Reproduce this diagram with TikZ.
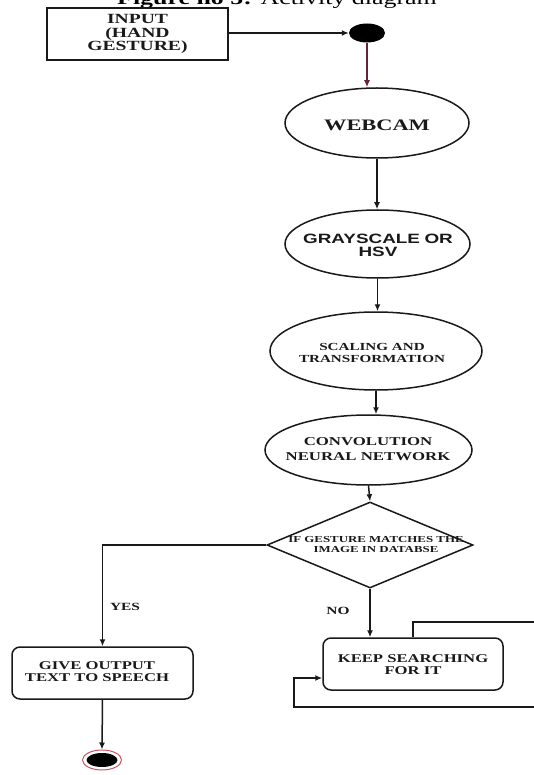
\documentclass[tikz,border=0pt]{standalone}
\usepackage{fontspec}
\usetikzlibrary{shapes.geometric,arrows.meta}
\newfontfamily\serifS[FakeStretch=1.4]{Liberation Serif}
\newfontfamily\sansS[FakeStretch=1.4]{Liberation Sans}
\definecolor{maroonln}{RGB}{100,35,55}
\definecolor{ringred}{RGB}{210,80,100}
\definecolor{ink}{RGB}{25,25,25}
\begin{document}
\begin{tikzpicture}[x=1pt,y=-1pt,
  line/.style={line width=1.5pt, draw=ink},
  arr/.style={line, -{Latex[length=7pt,width=6pt]}},
  el/.style={ellipse, draw=ink, line width=1.5pt, inner sep=0pt},
  rbox/.style={rectangle, rounded corners=8pt, draw=ink, line width=1.5pt, inner sep=0pt},
  lbl/.style={align=center, text=ink, inner sep=0pt},
]
\useasboundingbox (0,0) rectangle (534,775);
\clip (0,0) rectangle (534,775);

% title (cut at top edge)
\node[anchor=base, inner sep=0pt, font=\serifS\fontsize{18.5}{20}\selectfont] (title) at (277,5) {\textbf{Figure no 5:} Activity diagram};

% input box
\node[rectangle, draw=ink, line width=1.5pt, minimum width=181pt, minimum height=52pt, inner sep=0pt] (input) at (137.5,34) {};
\node[lbl, font=\serifS\bfseries\fontsize{14}{13.5}\selectfont] (inputT) at (input) {INPUT\\(HAND\\GESTURE)};

% start dot
\node[ellipse, fill=black, minimum width=36pt, minimum height=19pt, inner sep=0pt] (dot) at (367,33) {};

% ellipses
\node[el, minimum width=184pt, minimum height=70pt] (webcam) at (377,123) {};
\node[lbl, font=\serifS\bfseries\fontsize{16}{16}\selectfont] (webcamT) at (377,125) {WEBCAM};

\node[el, minimum width=185pt, minimum height=68pt] (gray) at (377.5,244) {};
\node[lbl, font=\sansS\bfseries\fontsize{13.5}{13}\selectfont] (grayT) at (378,245) {GRAYSCALE\,\,OR\\HSV};

\node[el, minimum width=212pt, minimum height=78pt] (scal) at (376,351) {};
\node[lbl, font=\serifS\bfseries\fontsize{10.8}{12}\selectfont] (scalT) at (372,353) {SCALING AND\\TRANSFORMATION};

\node[el, minimum width=207pt, minimum height=70pt] (cnn) at (368.5,450) {};
\node[lbl, font=\serifS\bfseries\fontsize{12}{15}\selectfont] (cnnT) at (368,449) {CONVOLUTION\\NEURAL NETWORK};

% decision
\node[diamond, draw=ink, line width=1.5pt, inner sep=0pt, minimum width=206pt, minimum height=86pt] (dec) at (370,545) {};
\node[lbl, font=\serifS\bfseries\fontsize{9.2}{10}\selectfont] (decT) at (376,544) {IF GESTURE\,\,MATCHES THE\\IMAGE IN DATABSE};

% action boxes
\node[rbox, minimum width=181pt, minimum height=52pt] (give) at (102.5,673) {};
\node[lbl, font=\serifS\bfseries\fontsize{11.9}{12}\selectfont] (giveT) at (97,672) {GIVE OUTPUT\\TEXT TO SPEECH};

\node[rbox, minimum width=180pt, minimum height=52pt] (keep) at (413,664) {};
\node[lbl, font=\serifS\bfseries\fontsize{11.9}{12}\selectfont] (keepT) at (413,665) {KEEP SEARCHING\\FOR IT};

% end node
\node[ellipse, draw=ringred, line width=1pt, fill=white, minimum width=39pt, minimum height=20pt, inner sep=0pt] (endo) at (102,760) {};
\node[ellipse, fill=black, minimum width=31pt, minimum height=14pt, inner sep=0pt] (endi) at (102,760) {};

% labels
\node[lbl, font=\serifS\bfseries\fontsize{11}{11}\selectfont] (yes) at (125,607) {YES};
\node[lbl, font=\serifS\bfseries\fontsize{11}{11}\selectfont] (no) at (338,611) {NO};

% connectors
\draw[arr] (input.east |- dot.west) -- (dot.west);
\draw[arr, draw=maroonln] (dot.south) -- (dot.south |- webcam.north);
\draw[arr] (webcam.south) -- (webcam.south |- gray.north);
\draw[arr] (gray.south) -- (gray.south |- scal.north);
\draw[arr] (scal.south) -- (scal.south |- cnn.north);
\draw[arr] (cnn.south) -- (dec.north);
\draw[arr] (dec.west) -| (give.north);
\draw[arr] (dec.south) -- (dec.south |- keep.north);
\draw[arr] (give.south) -- (endo.north);

% self loop of keep searching
\coordinate (l1) at (545,622);
\coordinate (l2) at (545,707);
\coordinate (l3) at (294,707);
\coordinate (l4) at (294,678);
\draw[arr] (keep.north) |- (l1) -- (l2) -- (l3) -- (l4) -- (l4 -| keep.west);
\end{tikzpicture}
\end{document}
